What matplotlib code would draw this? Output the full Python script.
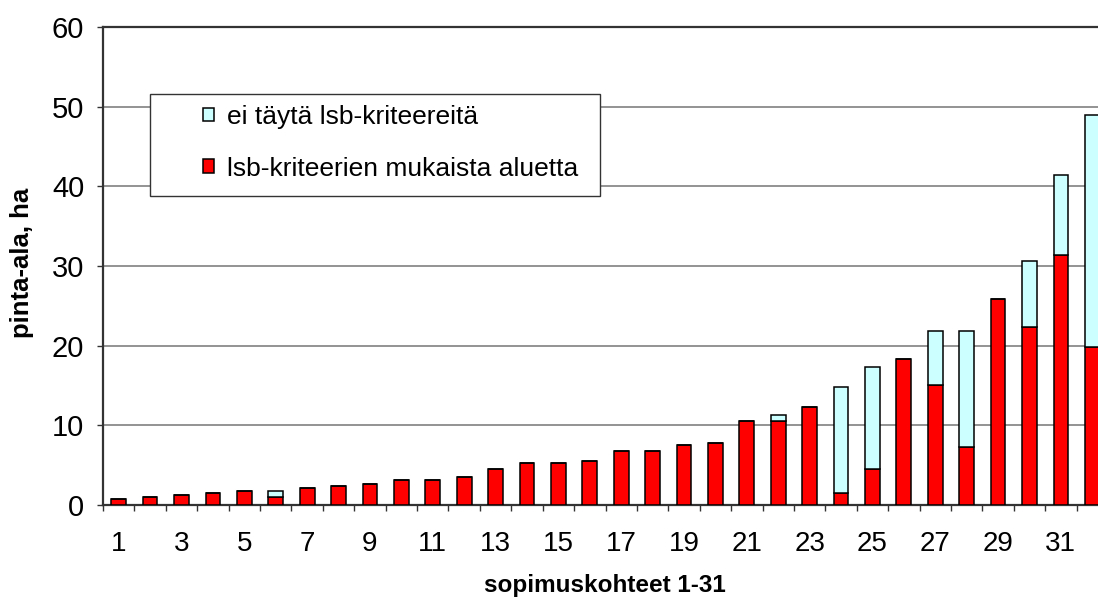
import matplotlib
matplotlib.use("Agg")
import matplotlib.pyplot as plt
from matplotlib.patches import Patch, Rectangle
import numpy as np

# sopimuskohteet
kohteet = list(range(1, 33))
# lsb-kriteerien mukaista aluetta (ha)
lsb_ok = [0.8, 1.0, 1.3, 1.55, 1.8, 1.0, 2.1, 2.35, 2.6, 3.1, 3.1, 3.55,
          4.5, 5.25, 5.25, 5.5, 6.75, 6.75, 7.5, 7.75, 10.5, 10.5, 12.3, 1.5,
          4.5, 18.35, 15.1, 7.3, 25.85, 22.3, 31.4, 19.8]
# ei täytä lsb-kriteereitä (ha)
lsb_ei = [0, 0, 0, 0, 0, 0.8, 0, 0, 0, 0, 0, 0,
          0, 0, 0, 0, 0, 0, 0, 0, 0, 0.8, 0, 13.35,
          12.85, 0, 6.75, 14.55, 0, 8.35, 10.0, 29.15]
tick_labels = [str(k) for k in kohteet if k % 2 == 1]

plt.rcParams['font.family'] = ['Liberation Sans', 'DejaVu Sans']

W, H = 1098, 597
fig = plt.figure(figsize=(W / 100, H / 100), dpi=100)
# plot area runs past the right edge like in the original
ax = fig.add_axes([103 / W, 1 - 505 / H, 1005 / W, 478 / H])

x = np.array(kohteet)
ax.bar(x, lsb_ok, width=0.47, color='#ff0000', edgecolor='black', linewidth=1.1, zorder=3)
ax.bar(x, lsb_ei, width=0.47, bottom=lsb_ok, color='#ccffff', edgecolor='black',
       linewidth=1.1, zorder=3)

ax.set_xlim(0.5, 32.5)
ax.set_ylim(0, 60)
ax.set_yticks(range(0, 61, 10))
ax.yaxis.grid(True, color='#808080', linewidth=1.2, zorder=0)
ax.set_axisbelow(True)

ax.set_xticks([k for k in kohteet if k % 2 == 1])
ax.set_xticklabels(tick_labels)
ax.set_xticks(np.arange(0.5, 33, 1), minor=True)
ax.tick_params(axis='x', which='major', length=0, labelsize=20, pad=19)
ax.tick_params(axis='x', which='minor', length=4, width=1, color='#333333')
ax.tick_params(axis='y', length=4, width=1, color='#333333', labelsize=21, pad=9.5)

for side in ['left', 'bottom', 'top']:
    ax.spines[side].set_color('#333333')
    ax.spines[side].set_linewidth(1.6)
ax.spines['right'].set_visible(False)

fig.text(605 / W, 5 / H, 'sopimuskohteet 1-31', fontsize=17.5, fontweight='bold',
         ha='center', va='baseline')
fig.text(22 / W, 1 - 263 / H, 'pinta-ala, ha', fontsize=18.5, fontweight='bold',
         ha='center', va='center', rotation=90)

# legend box
fig.patches.append(Rectangle((150 / W, 1 - 196 / H), 450 / W, 102 / H,
                             transform=fig.transFigure, facecolor='white',
                             edgecolor='#333333', linewidth=1, zorder=5))
handles = [Patch(facecolor='#ccffff', edgecolor='black', linewidth=1.1),
           Patch(facecolor='#ff0000', edgecolor='black', linewidth=1.1)]
leg = fig.legend(handles, ['ei täytä lsb-kriteereitä', 'lsb-kriteerien mukaista aluetta'],
                 loc='upper left', bbox_to_anchor=(203 / W, 1 - 105 / H),
                 frameon=False, fontsize=19, handlelength=0.42, handleheight=0.42,
                 handletextpad=0.5, labelspacing=1.05, borderpad=0, borderaxespad=0)
leg.set_zorder(6)

fig.savefig('out.png', dpi=100)
